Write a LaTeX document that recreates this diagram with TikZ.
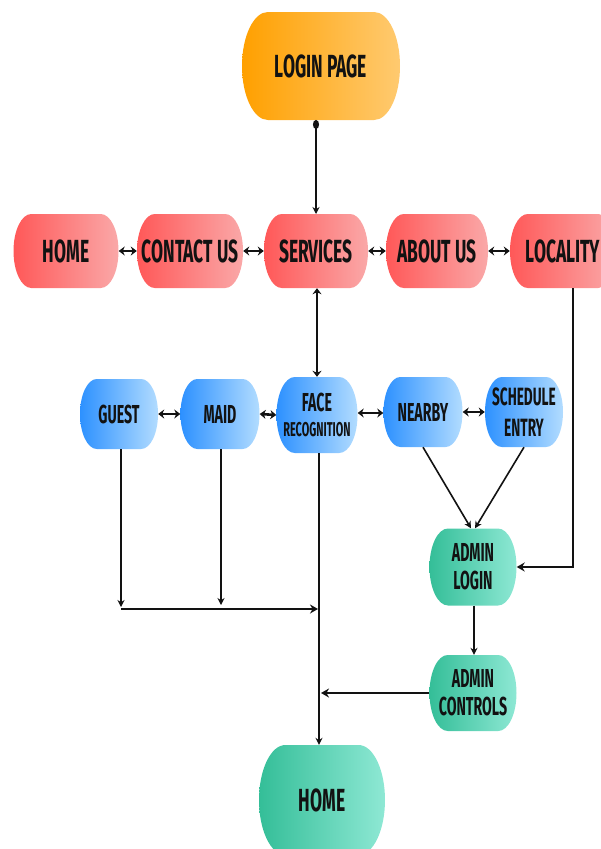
\documentclass[tikz,border=0pt]{standalone}
\usepackage{fontspec}
\newfontfamily\dfont[FakeStretch=0.545]{Fira Sans}
\usetikzlibrary{arrows.meta,calc}
\definecolor{orL}{RGB}{255,160,0}
\definecolor{orR}{RGB}{255,202,112}
\definecolor{redL}{RGB}{255,88,88}
\definecolor{redR}{RGB}{250,168,168}
\definecolor{bluL}{RGB}{45,145,255}
\definecolor{bluR}{RGB}{178,220,255}
\definecolor{grnL}{RGB}{52,190,152}
\definecolor{grnR}{RGB}{142,232,212}
\definecolor{ink}{RGB}{18,18,18}
\tikzset{
  lbl/.style={inner sep=0pt,align=center,text=ink},
  con/.style={line width=1.6pt,draw=ink,-{Stealth[length=7pt,width=7pt]}},
  thk/.style={line width=2.6pt,draw=ink,-{Stealth[length=8pt,width=9pt]}},
  dbl/.style={line width=2.6pt,draw=ink,{Stealth[length=6pt,width=9pt]}-{Stealth[length=6pt,width=9pt]}}
}
% #1 name #2 x #3 y #4 w #5 h #6 colour #7 font size #8 leading #9 text
\newcommand\barrel[9]{%
  \shade[left color=#6L,right color=#6R]
    ({#2-#4/2+0.24*#5},{-#3+#5/2}) -- ({#2+#4/2-0.24*#5},{-#3+#5/2})
    arc[start angle=90,end angle=-90,x radius={0.24*#5},y radius={#5/2}]
    -- ({#2-#4/2+0.24*#5},{-#3-#5/2})
    arc[start angle=270,end angle=90,x radius={0.24*#5},y radius={#5/2}] -- cycle;
  \node[lbl,minimum width=#4,minimum height=#5,font=\dfont\bfseries\fontsize{#7}{#8}\selectfont] (#1) at (#2,-#3) {#9};}
\begin{document}
\begin{tikzpicture}[x=1pt,y=1pt]
\useasboundingbox (0,0) rectangle (601,-849);
\clip (0,0) rectangle (601,-849);
\barrel{login}{321}{66}{158}{108}{or}{32}{36}{LOGIN PAGE}
\barrel{homeA}{66}{251}{105}{74}{red}{32}{36}{HOME}
\barrel{contact}{190}{251}{106}{74}{red}{32}{36}{CONTACT US}
\barrel{services}{316}{251}{104}{74}{red}{32}{36}{SERVICES}
\barrel{about}{437}{251}{102}{74}{red}{32}{36}{ABOUT US}
\barrel{locality}{563}{251}{106}{74}{red}{32}{36}{LOCALITY}
\barrel{guest}{119}{414}{78}{70}{blu}{26}{30}{GUEST}
\barrel{maid}{220}{414}{79}{70}{blu}{26}{30}{MAID}
\barrel{face}{317}{415}{81}{76}{blu}{26}{25}{FACE\\{\fontsize{20}{22}\selectfont RECOGNITION}}
\barrel{nearby}{423}{412}{79}{70}{blu}{26}{30}{NEARBY}
\barrel{sched}{524}{412}{78}{70}{blu}{25}{31}{SCHEDULE\\ENTRY}
\barrel{alogin}{473}{567}{87}{77}{grn}{26}{28}{ADMIN\\LOGIN}
\barrel{actrl}{473}{693}{87}{76}{grn}{26}{28}{ADMIN\\CONTROLS}
\barrel{homeB}{322}{800}{126}{110}{grn}{32}{36}{HOME}
% connectors
\draw[con,{Circle[length=9pt,width=6pt]}-{Stealth[length=7pt,width=7pt]}] (316,-120) -- (316,-214);
\draw[dbl] (homeA.east) -- (contact.west);
\draw[dbl] (contact.east) -- (services.west);
\draw[dbl] (services.east) -- (about.west);
\draw[dbl] (about.east) -- (locality.west);
\draw[dbl] (services.south -| face.north) -- (face.north);
\draw[dbl] (guest.east) -- (maid.west);
\draw[dbl] (maid.east) -- (face.west);
\draw[dbl] ([yshift=2pt]face.east) -- ([yshift=2pt]face.east -| nearby.west);
\draw[dbl] (nearby.east) -- (sched.west);
\coordinate (locb) at (573,-288);
\draw[thk] (locb) |- (alogin.east);
\draw[con] (nearby.south) -- ([xshift=-2pt]alogin.north);
\draw[con] (sched.south) -- ([xshift=2pt]alogin.north);
\coordinate (gB) at (121,-607);
\coordinate (mB) at (221,-605);
\coordinate (jA) at (318,-609);
\coordinate (jB) at (321,-693);
\draw[con] (guest.south -| gB) -- (gB);
\draw[con] (maid.south -| mB) -- (mB);
\draw[thk] (121,-609) -- (jA);
\draw[con] (319,-453) -- (homeB.north -| 319,0);
\draw[con] (alogin.south -| 474,0) -- (actrl.north -| 474,0);
\draw[thk] (actrl.west) -- (jB);
\end{tikzpicture}
\end{document}
